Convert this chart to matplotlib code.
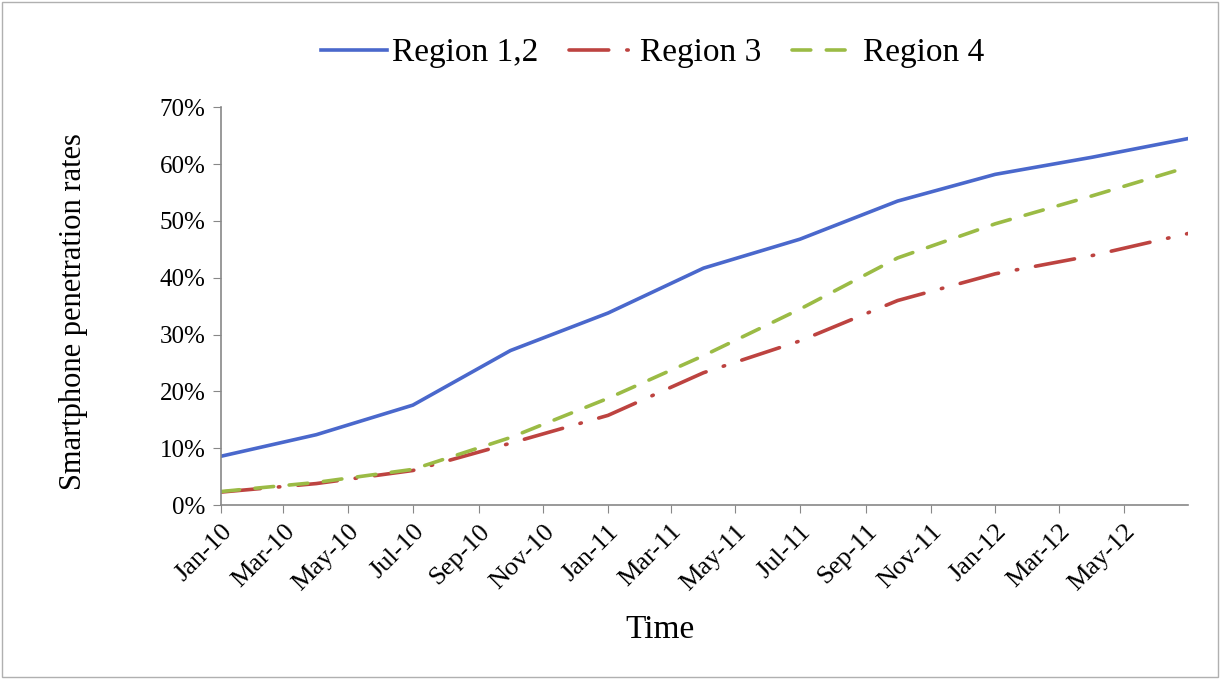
import numpy as np
import pandas as pd
import matplotlib
matplotlib.use("Agg")
import matplotlib.pyplot as plt
import matplotlib.dates as mdates
from matplotlib.ticker import PercentFormatter
from matplotlib.patches import Rectangle

# Данные (квартальные точки)
dates = pd.to_datetime(["2010-01-01", "2010-04-01", "2010-07-01", "2010-10-01",
                        "2011-01-01", "2011-04-01", "2011-07-01", "2011-10-01",
                        "2012-01-01", "2012-04-01", "2012-07-01"])
region12 = [8.6, 12.4, 17.6, 27.2, 33.8, 41.7, 46.8, 53.5, 58.2, 61.2, 64.5]
region3 = [2.3, 3.8, 6.1, 10.9, 15.8, 23.3, 28.9, 36.0, 40.7, 43.9, 47.8]
region4 = [2.4, 4.0, 6.3, 11.9, 18.8, 26.3, 34.5, 43.5, 49.5, 54.4, 59.5]
labels = ["Region 1,2", "Region 3", "Region 4"]
colors = ["#4a68cc", "#bd4340", "#9bbb45"]

plt.rcParams['font.family'] = ['Liberation Serif', 'DejaVu Serif']

fig = plt.figure(figsize=(12.2, 6.79), dpi=100)
ax = fig.add_axes([0.181, 0.256, 0.793, 0.586])

ax.plot(dates, region12, color=colors[0], lw=2.6, label=labels[0])
ax.plot(dates, region3, color=colors[1], lw=2.6, label=labels[1],
        dashes=(11, 5, 0.4, 5), dash_capstyle='round')
ax.plot(dates, region4, color=colors[2], lw=2.6, label=labels[2],
        dashes=(5.2, 4.3), dash_capstyle='round')

# оси
ax.set_ylim(0, 70)
ax.set_yticks(np.arange(0, 71, 10))
ax.yaxis.set_major_formatter(PercentFormatter(decimals=0))
ax.set_xlim(dates[0], dates[-1])
ticks = pd.date_range("2010-01-01", "2012-05-01", freq="2MS")
ax.set_xticks(ticks)
ax.xaxis.set_major_formatter(mdates.DateFormatter("%b-%y"))
plt.setp(ax.get_xticklabels(), rotation=45, ha='right', rotation_mode='anchor')

for s in ['top', 'right']:
    ax.spines[s].set_visible(False)
for s in ['left', 'bottom']:
    ax.spines[s].set_color('#888888')
    ax.spines[s].set_linewidth(1.2)
ax.tick_params(axis='both', direction='out', length=6, color='#888888')
ax.tick_params(axis='y', labelsize=18, pad=5)
ax.tick_params(axis='x', labelsize=19, pad=5)

ax.set_ylabel("Smartphone penetration rates", fontsize=22)
ax.yaxis.set_label_coords(-0.1375, 0.487)
ax.set_xlabel("Time", fontsize=24)
ax.xaxis.set_label_coords(0.454, -0.275)

fig.legend(loc='center', bbox_to_anchor=(0.535, 0.922), ncol=3, frameon=False,
           fontsize=24, handlelength=2.0, columnspacing=0.9, handletextpad=0.15)

# рамка вокруг картинки
fig.patches.append(Rectangle((0.002, 0.003), 0.996, 0.994, transform=fig.transFigure,
                             fill=False, edgecolor='#b0b0b0', lw=1))

fig.savefig("out.png", dpi=100)
